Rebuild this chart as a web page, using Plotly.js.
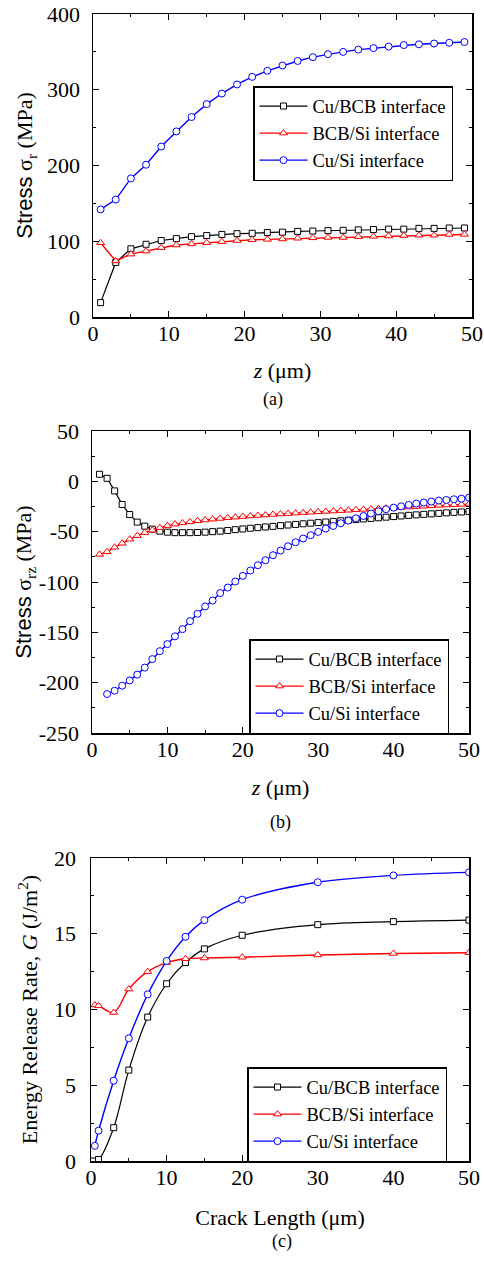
<!DOCTYPE html>
<html>
<head>
<meta charset="utf-8">
<script src="https://cdn.plot.ly/plotly-3.0.1.min.js"></script>
<style>html,body{margin:0;padding:0;background:#fff;}#chart{width:484px;height:1262px;}</style>
</head>
<body>
<div id="chart"></div>
<script>
// ---------- DATA ----------
const seriesNames = ['Cu/BCB interface', 'BCB/Si interface', 'Cu/Si interface'];

// Panel (a): radial stress sigma_r vs z
const zA = [1,3,5,7,9,11,13,15,17,19,21,23,25,27,29,31,33,35,37,39,41,43,45,47,49];
const aCuBCB = [19,72,90,96,101,103.5,106,107.5,109,110,110.5,111.5,112,113,113.5,114,114.5,115,115.5,116,116,117,117,117.5,117.5];
const aBCBSi = [98,74,83,87,91.5,95,96.5,98,99.5,101,102,102.5,103,104,104.5,105,105,106,106.5,107,107.5,108,108,109,109];
const aCuSi  = [142,155,183,201,225,245,264,281,295,307,317,325,332,338,343,347,350,353,355,357,359,360,361,362,363];

// Panel (b): shear stress sigma_rz vs z
const zB = [1,2,3,4,5,6,7,8,9,10,11,12,13,14,15,16,17,18,19,20,21,22,23,24,25,26,27,28,29,30,31,32,33,34,35,36,37,38,39,40,41,42,43,44,45,46,47,48,49,50];
const bCuBCB = [7,3,-9.5,-23,-33,-40.5,-44.5,-47.5,-49.5,-50.5,-51,-51,-51,-50.8,-50.5,-50,-49.5,-48.8,-48,-47.3,-46.6,-46,-45.3,-44.7,-44,-43.4,-42.8,-42.2,-41.6,-41,-40.4,-39.8,-39.2,-38.6,-38,-37.4,-36.8,-36.2,-35.6,-35,-34.4,-33.8,-33.3,-32.8,-32.3,-31.8,-31.3,-30.8,-30.4,-30];
const bBCBSi = [-72.5,-70,-65.5,-61.5,-57.5,-54,-51,-48.5,-46,-44,-42.5,-41.3,-40.2,-39.2,-38.4,-37.6,-36.9,-36.2,-35.6,-35,-34.4,-33.9,-33.4,-32.9,-32.4,-32,-31.5,-31.1,-30.7,-30.3,-29.9,-29.5,-29.1,-28.7,-28.3,-27.9,-27.5,-27.1,-26.7,-26.3,-25.9,-25.5,-25.1,-24.7,-24.3,-23.9,-23.5,-23.2,-22.9,-22.6];
const zBblue = [2,3,4,5,6,7,8,9,10,11,12,13,14,15,16,17,18,19,20,21,22,23,24,25,26,27,28,29,30,31,32,33,34,35,36,37,38,39,40,41,42,43,44,45,46,47,48,49,50];
const bCuSi = [-211.3,-208,-203,-197.8,-192,-185,-176.6,-168.7,-161.7,-154,-146.8,-138.9,-131.6,-124.3,-118.4,-111,-105.5,-99.5,-93.9,-88.6,-83.3,-78.4,-73.4,-68.8,-64.5,-60.5,-56.8,-53.5,-50.2,-46.9,-44.3,-41.6,-39,-36.7,-34.4,-32,-29.7,-27.7,-26.1,-24.8,-23.4,-22.1,-21.1,-20.1,-19.1,-18.5,-17.8,-17.2,-16.2];
const bTickVals = [-250,-200,-150,-100,-50,0,50];
const bTickText = ['-250','-200','-150','-100','-50','0','50'];

// Panel (c): energy release rate G vs crack length
const cxCuBCB = [0.25,1,3,5,7.5,10,12.5,15,20,30,40,50];
const cCuBCB  = [0,0.1,2.2,6.0,9.5,11.7,13.1,14.0,14.9,15.6,15.8,15.9];
const cxBCBSi = [0.5,1,3,5,7.5,10,12.5,15,20,30,40,50];
const cBCBSi  = [10.3,10.25,9.8,11.35,12.5,13.1,13.35,13.4,13.45,13.6,13.7,13.75];
const cxCuSi  = [0.5,1,3,5,7.5,10,12.5,15,20,30,40,50];
const cCuSi   = [1.0,2.0,5.3,8.1,11.0,13.2,14.8,15.9,17.25,18.4,18.85,19.05];

// ---------- STYLE ----------
const W = 484, H = 1262;
const serif = 'Liberation Serif, Times New Roman, serif';
const colors = ['#000000', '#ff0000', '#0000ff'];
const symbols = ['square', 'triangle-up', 'circle'];
const msize = [6, 7, 7];

function tr(x, y, i, xa, ya, leg, shape, ms) {
  return {
    x: x, y: y, xaxis: xa, yaxis: ya, legend: leg,
    type: 'scatter', mode: 'lines+markers', name: seriesNames[i],
    line: {color: colors[i], width: i === 0 ? 1.2 : 1.4, shape: shape || 'linear', smoothing: 1},
    marker: {symbol: symbols[i], size: ms || msize[i], color: '#ffffff', line: {color: colors[i], width: 1}}
  };
}

const data = [
  tr(zA, aCuBCB, 0, 'x', 'y', 'legend'),
  tr(zA, aBCBSi, 1, 'x', 'y', 'legend'),
  tr(zA, aCuSi, 2, 'x', 'y', 'legend'),
  tr(zB, bCuBCB, 0, 'x2', 'y2', 'legend2', 'linear', 6),
  tr(zB, bBCBSi, 1, 'x2', 'y2', 'legend2', 'linear', 7),
  tr(zBblue, bCuSi, 2, 'x2', 'y2', 'legend2', 'linear', 7),
  tr(cxCuBCB, cCuBCB, 0, 'x3', 'y3', 'legend3', 'spline', 6),
  tr(cxBCBSi, cBCBSi, 1, 'x3', 'y3', 'legend3', 'spline', 7),
  tr(cxCuSi, cCuSi, 2, 'x3', 'y3', 'legend3', 'spline', 7)
];

function px2x(p) { return p / W; }
function px2y(p) { return 1 - p / H; }

function axisBase(extra) {
  return Object.assign({
    showline: true, linecolor: '#000', linewidth: 1.5, mirror: 'allticks',
    ticks: 'inside', ticklen: 6, tickwidth: 1, tickcolor: '#000',
    showgrid: false, zeroline: false, fixedrange: true,
    tickfont: {family: serif, size: 22, color: '#000'}
  }, extra);
}
function minorTicks(d) {
  return {tick0: 0, dtick: d, ticks: 'inside', ticklen: 3, tickwidth: 1, tickcolor: '#000', showgrid: false};
}

const ttlFont = {family: serif, size: 22, color: '#000'};
const stressSans = '<span style="font-family:Liberation Sans, Arial, sans-serif">Stress</span>';

function legendAt(xl, yt) {
  return {
    x: px2x(xl), y: px2y(yt), xanchor: 'left', yanchor: 'top',
    bgcolor: '#ffffff', bordercolor: '#000', borderwidth: 1.5,
    font: {family: serif, size: 18.5, color: '#000'},
    itemwidth: 48, tracegroupgap: 0
  };
}

function label(t, xp, yp) {
  return {text: t, x: px2x(xp), y: px2y(yp), xref: 'paper', yref: 'paper',
    xanchor: 'center', yanchor: 'middle', showarrow: false,
    font: {family: serif, size: 18, color: '#000'}};
}

const layout = {
  width: W, height: H,
  margin: {l: 0, r: 0, t: 0, b: 0},
  paper_bgcolor: '#fff', plot_bgcolor: '#fff',
  showlegend: true,
  font: {family: serif, color: '#000'},
  xaxis: axisBase({domain: [px2x(93), px2x(472)], range: [0, 50], dtick: 10, anchor: 'y',
    ticklabelstandoff: -4, minor: minorTicks(5),
    title: {text: '<i>z</i> (μm)', font: ttlFont, standoff: 17}}),
  yaxis: axisBase({domain: [px2y(317), px2y(14)], range: [0, 400], dtick: 100, anchor: 'x',
    ticklabelstandoff: 7, minor: minorTicks(50),
    title: {text: stressSans + ' σ<sub>r</sub> (MPa)', font: ttlFont, standoff: 8}}),
  xaxis2: axisBase({domain: [px2x(92), px2x(469)], range: [0, 50], dtick: 10, anchor: 'y2',
    ticklabelstandoff: -4, minor: minorTicks(5),
    title: {text: '<i>z</i> (μm)', font: ttlFont, standoff: 18}}),
  yaxis2: axisBase({domain: [px2y(733), px2y(431)], range: [-250, 50], anchor: 'x2',
    tickmode: 'array', tickvals: bTickVals, ticktext: bTickText,
    ticklabelstandoff: 7, minor: minorTicks(25),
    title: {text: stressSans + ' σ<sub>rz</sub> (MPa)', font: ttlFont, standoff: 0}}),
  xaxis3: axisBase({domain: [px2x(91), px2x(469)], range: [0, 50], dtick: 10, anchor: 'y3',
    ticklabelstandoff: -4, minor: minorTicks(5),
    title: {text: 'Crack Length (μm)', font: ttlFont, standoff: 20}}),
  yaxis3: axisBase({domain: [px2y(1161), px2y(858)], range: [0, 20], dtick: 5, anchor: 'x3',
    ticklabelstandoff: 9, minor: minorTicks(2.5),
    title: {text: 'Energy Release Rate, <i>G</i> (J/m<sup>2</sup>)', font: ttlFont, standoff: 10}}),
  legend: legendAt(253, 86),
  legend2: legendAt(249, 639),
  legend3: legendAt(247, 1067),
  annotations: [
    label('(a)', 273, 399),
    label('(b)', 280, 822),
    label('(c)', 282, 1241)
  ]
};

Plotly.newPlot('chart', data, layout, {displayModeBar: false, staticPlot: true});
</script>
</body>
</html>
